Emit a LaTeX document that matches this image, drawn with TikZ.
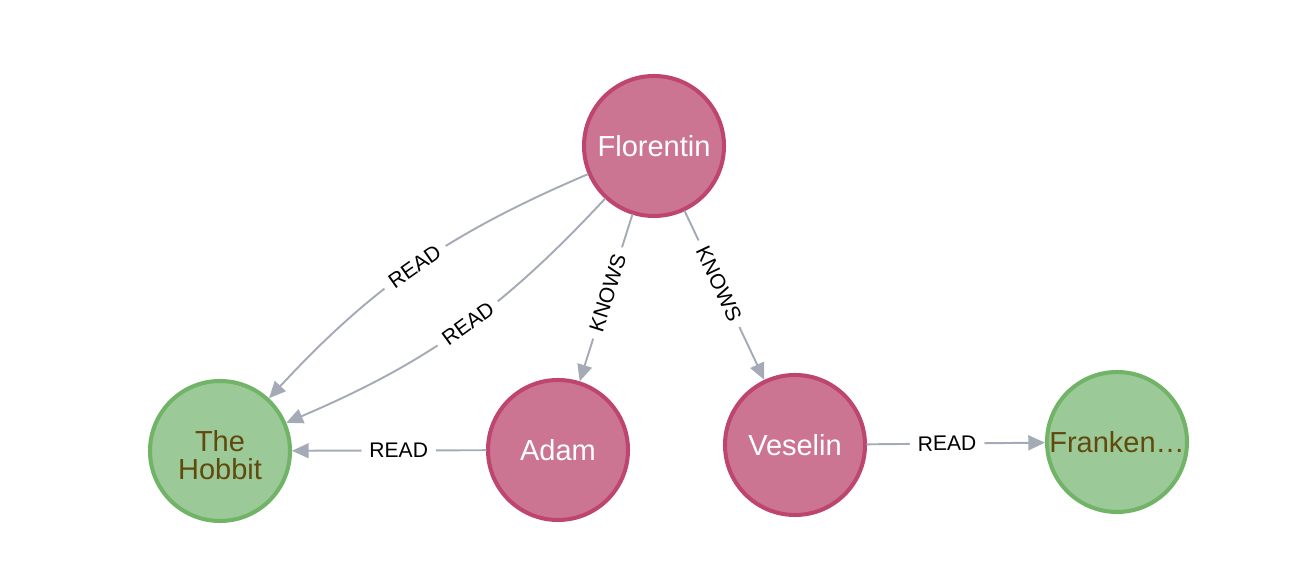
\documentclass[tikz,border=0pt]{standalone}
\usepackage{fontspec}
\setmainfont{Liberation Sans}
\usetikzlibrary{arrows.meta}
\definecolor{pinkfill}{RGB}{204,117,147}
\definecolor{pinkline}{RGB}{190,70,110}
\definecolor{greenfill}{RGB}{155,201,151}
\definecolor{greenline}{RGB}{113,180,104}
\definecolor{booktext}{RGB}{96,74,14}
\definecolor{relgray}{RGB}{165,171,182}
\tikzset{
    person/.style = {circle, draw=pinkline, fill=pinkfill, line width=2.3pt,
        minimum size=2.8cm, inner sep=0pt, text=white, font=\fontsize{16.5}{16.5}\selectfont},
    book/.style = {circle, draw=greenline, fill=greenfill, line width=2.3pt,
        minimum size=2.8cm, inner sep=0pt, text=booktext, align=center,
        font=\fontsize{16.5}{16}\selectfont},
    rel/.style = {draw=relgray, line width=1.1pt, -{Triangle[length=9.5pt,width=8.5pt]}},
    rlabel/.style = {fill=white, inner xsep=4.5pt, inner ysep=2pt, sloped, text=black,
        font=\fontsize{12}{12}\selectfont}
}

\begin{document}
\begin{tikzpicture}[line cap=round,line join=round,x=1.0cm,y=1.0cm]
	\useasboundingbox (0,0) rectangle (25.88,11.32);
	\node[person] (florentin) at (13.08,8.4) {Florentin};
	\node[book] (hobbit) at (4.4,2.3) {\rule{0pt}{16.6pt}The\\Hobbit};
	\node[person] (adam) at (11.16,2.32) {Adam};
	\node[person] (veselin) at (15.9,2.42) {Veselin};
	\node[book] (franken) at (22.34,2.48) {Franken\ldots};
	% relations
	\draw[rel] (florentin) to[bend right=12] node[rlabel, pos=0.5] {READ} (hobbit);
	\draw[rel] (florentin) to[bend left=12] node[rlabel, pos=0.47] {READ} (hobbit);
	\draw[rel] (adam) -- node[rlabel, pos=0.45] {READ} (hobbit);
	\draw[rel] (florentin) -- node[rlabel, pos=0.47] {KNOWS} (adam);
	\draw[rel] (florentin) -- node[rlabel, pos=0.43] {KNOWS} (veselin);
	\draw[rel] (veselin) -- node[rlabel, pos=0.45] {READ} (franken);
\end{tikzpicture}
\end{document}
